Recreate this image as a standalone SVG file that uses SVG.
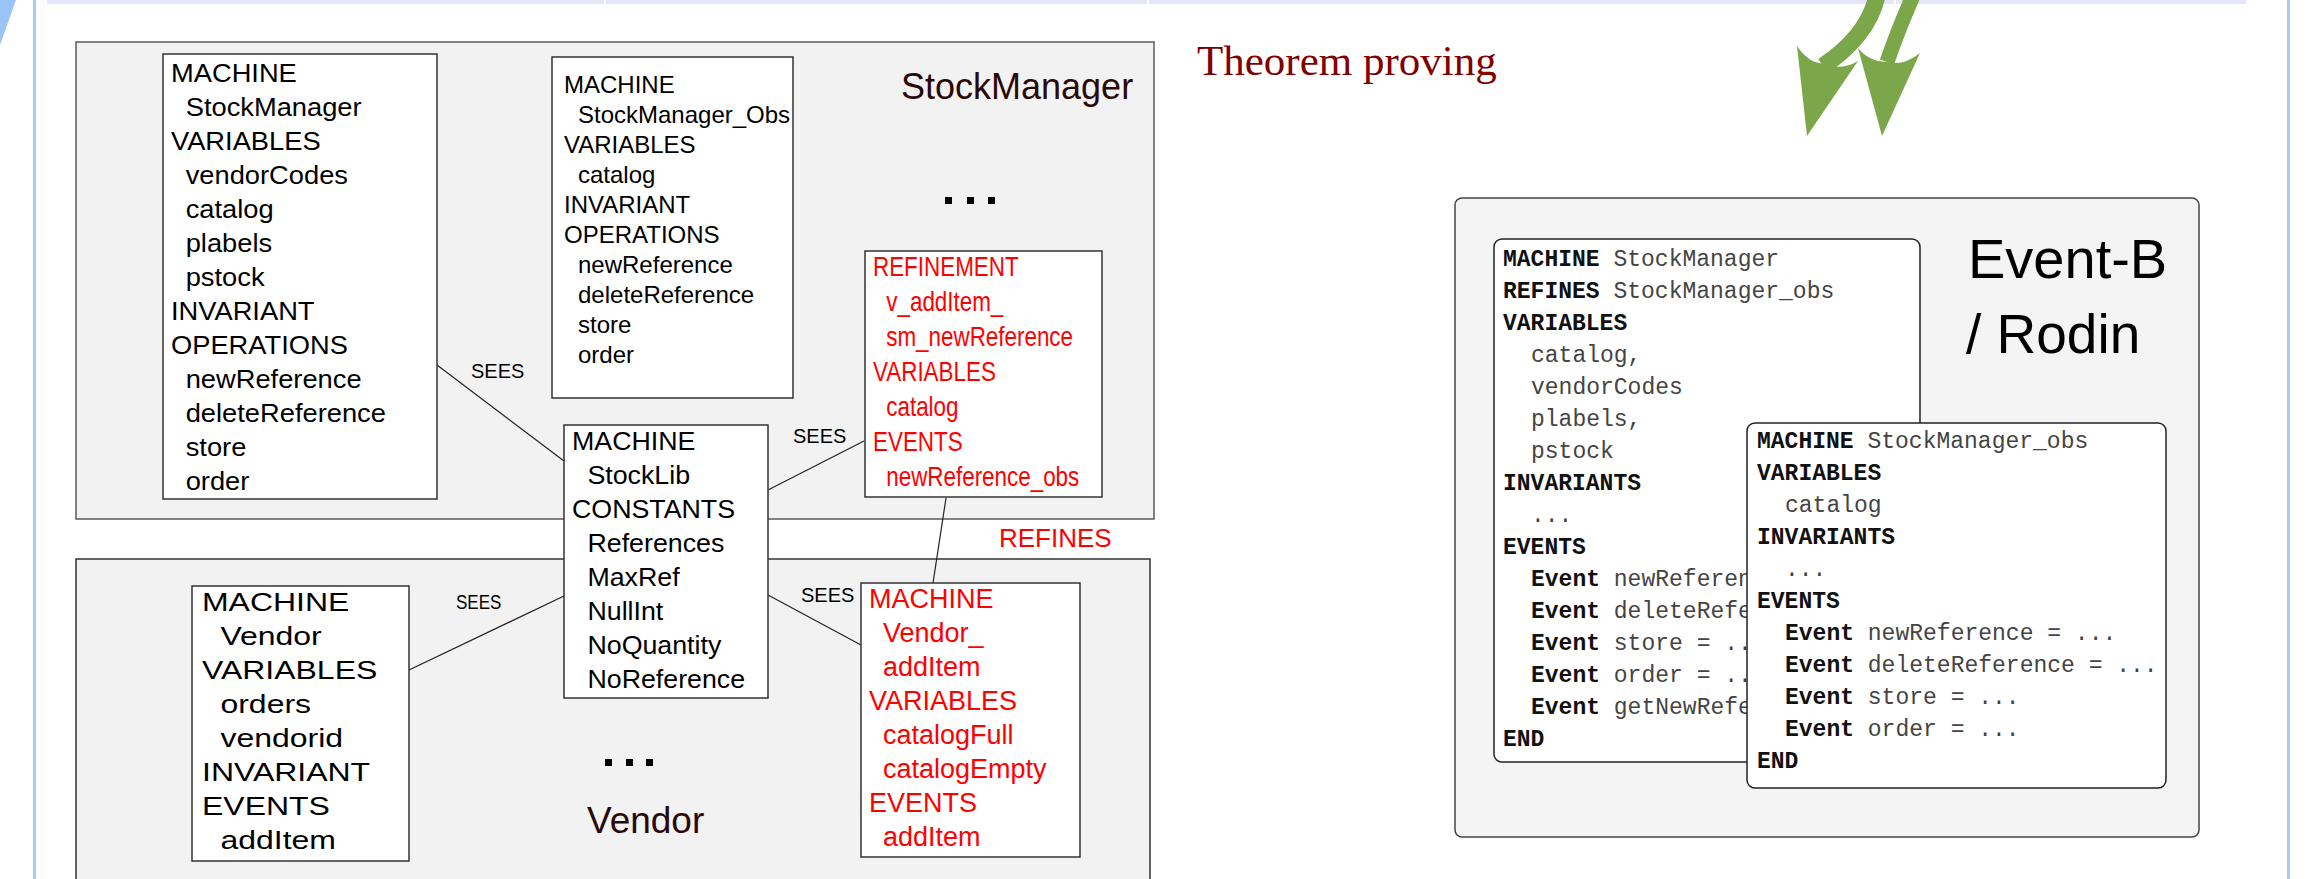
<svg xmlns="http://www.w3.org/2000/svg" width="2320" height="879" viewBox="0 0 2320 879">
<style>
.gbox{fill:#f2f2f2;stroke:#5a5a5a;stroke-width:1.5}
.node{fill:#fff;stroke:#333;stroke-width:1.5}
.t{font-family:'Liberation Sans',Arial,sans-serif;fill:#000}
.f26{font-size:26px}
.f24{font-size:24px}
.f27{font-size:27px}
.red{fill:#ff0000}
.lbl{font-family:'Liberation Sans',Arial,sans-serif;font-size:20px;fill:#000}
.conn{stroke:#222;stroke-width:1.2;fill:none}
.mono{font-family:'Liberation Mono','Courier New',monospace;font-size:23px;fill:#444}
.kw{font-weight:bold;fill:#111}
.rbox{fill:#fff;stroke:#222;stroke-width:1.5}
.green{fill:#7ba64a}
.title{fill:#2a0808;font-family:'Liberation Sans',Arial,sans-serif}
.dot{fill:#000}
</style>
<rect width="2320" height="879" fill="#fff"/>
<g id="page">
<polygon points="0,0 16,0 0,45" fill="#99c4f5"/>
<rect x="33" y="0" width="3" height="879" fill="#a6ccf5"/>
<rect x="2287" y="0" width="3" height="879" fill="#a6ccf5"/>
<rect x="47" y="0" width="2199" height="4" fill="#e6e6fa"/>
<rect x="604" y="0" width="2" height="4" fill="#fff"/>
<rect x="1147" y="0" width="2" height="4" fill="#fff"/>
<rect x="1894" y="0" width="2" height="4" fill="#fff"/>
</g>
<g id="stockmanager-container">
<rect class="gbox" x="76" y="42" width="1078" height="477"/>
<text class="title" x="901" y="99" font-size="36">StockManager</text>
<rect class="dot" x="945" y="197" width="7" height="7"/>
<rect class="dot" x="967" y="197" width="7" height="7"/>
<rect class="dot" x="988" y="197" width="7" height="7"/>
</g>
<g id="vendor-container">
<rect class="gbox" x="76" y="559" width="1074" height="340" style="stroke:#333"/>
<text class="title" x="587" y="833" font-size="37">Vendor</text>
<rect class="dot" x="605" y="759" width="7" height="7"/>
<rect class="dot" x="626" y="759" width="7" height="7"/>
<rect class="dot" x="646" y="759" width="7" height="7"/>
</g>
<g id="connectors">
<line class="conn" x1="437" y1="365" x2="564" y2="461"/>
<line class="conn" x1="768" y1="490" x2="864" y2="441"/>
<line class="conn" x1="409" y1="670" x2="564" y2="596"/>
<line class="conn" x1="768" y1="595" x2="861" y2="645"/>
<line class="conn" x1="946" y1="498" x2="933" y2="583"/>
<text class="lbl" x="471" y="378">SEES</text>
<text class="lbl" x="793" y="443">SEES</text>
<text class="lbl" transform="translate(456,609) scale(0.85,1)" x="0" y="0">SEES</text>
<text class="lbl" x="801" y="602">SEES</text>
<text class="t f26 red" x="999" y="547">REFINES</text>
</g>
<g id="node-stockmanager">
<rect class="node" x="163" y="54" width="274" height="445"/>
<g class="t f26" transform="translate(171,0) scale(1.05,1)">
<text x="0" y="82">MACHINE</text>
<text x="14" y="116">StockManager</text>
<text x="0" y="150">VARIABLES</text>
<text x="14" y="184">vendorCodes</text>
<text x="14" y="218">catalog</text>
<text x="14" y="252">plabels</text>
<text x="14" y="286">pstock</text>
<text x="0" y="320">INVARIANT</text>
<text x="0" y="354">OPERATIONS</text>
<text x="14" y="388">newReference</text>
<text x="14" y="422">deleteReference</text>
<text x="14" y="456">store</text>
<text x="14" y="490">order</text>
</g>
</g>
<g id="node-stockmanager-obs">
<rect class="node" x="552" y="57" width="241" height="341"/>
<g class="t f24">
<text x="564" y="93">MACHINE</text>
<text x="578" y="123">StockManager_Obs</text>
<text x="564" y="153">VARIABLES</text>
<text x="578" y="183">catalog</text>
<text x="564" y="213">INVARIANT</text>
<text x="564" y="243">OPERATIONS</text>
<text x="578" y="273">newReference</text>
<text x="578" y="303">deleteReference</text>
<text x="578" y="333">store</text>
<text x="578" y="363">order</text>
</g>
</g>
<g id="node-refinement">
<rect class="node" x="865" y="251" width="237" height="246"/>
<g class="t f27 red" transform="translate(873,0) scale(0.83,1)">
<text x="0" y="276">REFINEMENT</text>
<text x="16" y="311">v_addItem_</text>
<text x="16" y="346">sm_newReference</text>
<text x="0" y="381">VARIABLES</text>
<text x="16" y="416">catalog</text>
<text x="0" y="451">EVENTS</text>
<text x="16" y="486">newReference_obs</text>
</g>
</g>
<g id="node-stocklib">
<rect class="node" x="564" y="425" width="204" height="273"/>
<g class="t f26" transform="translate(572,0) scale(1.03,1)">
<text x="0" y="450">MACHINE</text>
<text x="15" y="484">StockLib</text>
<text x="0" y="518">CONSTANTS</text>
<text x="15" y="552">References</text>
<text x="15" y="586">MaxRef</text>
<text x="15" y="620">NullInt</text>
<text x="15" y="654">NoQuantity</text>
<text x="15" y="688">NoReference</text>
</g>
</g>
<g id="node-vendor">
<rect class="node" x="192" y="586" width="217" height="275"/>
<g class="t f26" transform="translate(202,0) scale(1.23,1)">
<text x="0" y="611">MACHINE</text>
<text x="15" y="645">Vendor</text>
<text x="0" y="679">VARIABLES</text>
<text x="15" y="713">orders</text>
<text x="15" y="747">vendorid</text>
<text x="0" y="781">INVARIANT</text>
<text x="0" y="815">EVENTS</text>
<text x="15" y="849">addItem</text>
</g>
</g>
<g id="node-vendor-additem">
<rect class="node" x="861" y="583" width="219" height="274"/>
<g class="t f27 red">
<text x="869" y="608">MACHINE</text>
<text x="883" y="642">Vendor_</text>
<text x="883" y="676">addItem</text>
<text x="869" y="710">VARIABLES</text>
<text x="883" y="744">catalogFull</text>
<text x="883" y="778">catalogEmpty</text>
<text x="869" y="812">EVENTS</text>
<text x="883" y="846">addItem</text>
</g>
</g>
<g id="theorem-proving">
<text x="1197" y="75" font-family="'Liberation Serif','Times New Roman',serif" font-size="43" fill="#800000">Theorem proving</text>
</g>
<g id="green-arrows">
<path d="M1877,-4 Q1868,36 1823,66" stroke="#7ba64a" stroke-width="17" fill="none"/>
<path class="green" d="M1797,46 L1807,136 L1858,61 Q1845,69 1831,66 L1815,62 Q1805,58 1797,46 Z"/>
<path d="M1913,-4 Q1898,30 1887,62" stroke="#7ba64a" stroke-width="15" fill="none"/>
<path class="green" d="M1858,48 L1882,136 L1920,53 Q1908,63 1895,63 L1878,61 Q1866,58 1858,48 Z"/>
</g>
<g id="eventb-container">
<rect x="1455" y="198" width="744" height="639" rx="7" fill="#f4f4f4" stroke="#444" stroke-width="1.5"/>
<text class="t" x="1968" y="278" font-size="56">Event-B</text>
<text class="t" x="1966" y="353" font-size="55">/ Rodin</text>
</g>
<g id="node-eventb-stockmanager">
<rect class="rbox" x="1494" y="239" width="426" height="523" rx="8"/>
<g class="mono">
<text x="1503" y="266"><tspan class="kw">MACHINE</tspan> StockManager</text>
<text x="1503" y="298"><tspan class="kw">REFINES</tspan> StockManager_obs</text>
<text x="1503" y="330" class="kw">VARIABLES</text>
<text x="1531" y="362">catalog,</text>
<text x="1531" y="394">vendorCodes</text>
<text x="1531" y="426">plabels,</text>
<text x="1531" y="458">pstock</text>
<text x="1503" y="490" class="kw">INVARIANTS</text>
<text x="1531" y="522">...</text>
<text x="1503" y="554" class="kw">EVENTS</text>
<text x="1531" y="586"><tspan class="kw">Event</tspan> newReferen</text>
<text x="1531" y="618"><tspan class="kw">Event</tspan> deleteRefer</text>
<text x="1531" y="650"><tspan class="kw">Event</tspan> store = ..</text>
<text x="1531" y="682"><tspan class="kw">Event</tspan> order = ..</text>
<text x="1531" y="714"><tspan class="kw">Event</tspan> getNewRefer</text>
<text x="1503" y="746" class="kw">END</text>
</g>
</g>
<g id="node-eventb-stockmanager-obs">
<rect class="rbox" x="1747" y="423" width="419" height="365" rx="8"/>
<g class="mono">
<text x="1757" y="448"><tspan class="kw">MACHINE</tspan> StockManager_obs</text>
<text x="1757" y="480" class="kw">VARIABLES</text>
<text x="1785" y="512">catalog</text>
<text x="1757" y="544" class="kw">INVARIANTS</text>
<text x="1785" y="576">...</text>
<text x="1757" y="608" class="kw">EVENTS</text>
<text x="1785" y="640"><tspan class="kw">Event</tspan> newReference = ...</text>
<text x="1785" y="672"><tspan class="kw">Event</tspan> deleteReference = ...</text>
<text x="1785" y="704"><tspan class="kw">Event</tspan> store = ...</text>
<text x="1785" y="736"><tspan class="kw">Event</tspan> order = ...</text>
<text x="1757" y="768" class="kw">END</text>
</g>
</g>
</svg>
